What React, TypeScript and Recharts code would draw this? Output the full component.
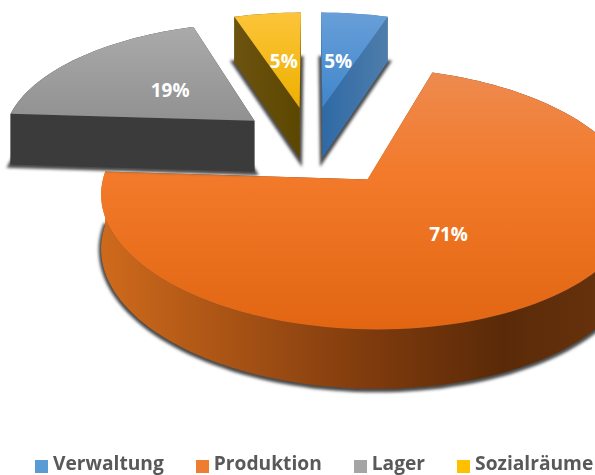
import React from 'react';
import { PieChart, Pie, Legend } from 'recharts';

const CATEGORIES = ['Verwaltung', 'Produktion', 'Lager', 'Sozialräume'];
const SHARES = [5, 71, 19, 5];

const COLORS = ['#5b9bd5', '#ed7d31', '#a5a5a5', '#ffc000'];
const TOP_STOPS = [
  ['#689fd8', '#3f86cc'],
  ['#ee8a4f', '#e26612'],
  ['#aaaaaa', '#919191'],
  ['#fcc53a', '#eeb000'],
];
const WALL_STOPS = [
  ['#2f6aa6', '#4e7dab'],
  ['#cf6a1c', '#7f3b0d', '#5a2a08', '#6b350f'],
  ['#3b3b3b', '#3b3b3b'],
  ['#6d5310', '#5c4700'],
];
// how far each slice is pulled out of the pie, in radii
const EXPLODE = [0.3, 0.38, 0.29, 0.3];
const LABEL_REACH = [0.46, 0.49, 0.46, 0.46];

const TILT = 117 / 253;
const PERSPECTIVE = 0.14;

const chartData = CATEGORIES.map((name, i) => ({ name, value: SHARES[i], fill: COLORS[i] }));

const rad = (d: number) => (d * Math.PI) / 180;

const project = (cx: number, cy: number, r: number, u: number, v: number) => {
  const w = 1 + PERSPECTIVE * v;
  const depth = 52 - 40 * (w - 1);
  const x = cx + (r * u) / w;
  const y = cy - (r * TILT * v) / w;
  return { x, y, by: y + depth };
};

const toPath = (pts: number[][]) =>
  pts.map((p, i) => `${i ? 'L' : 'M'}${p[0].toFixed(1)} ${p[1].toFixed(1)}`).join(' ') + ' Z';

const Slice3D = (props: any) => {
  const { cx, cy, outerRadius: r, startAngle, endAngle, index } = props;
  const a1 = 90 - startAngle;
  const a2 = 90 - endAngle;
  const mid = (a1 + a2) / 2;
  const e = EXPLODE[index];
  const ou = e * Math.sin(rad(mid));
  const ov = e * Math.cos(rad(mid));

  const rim = [];
  for (let a = a1; a < a2; a += 2) rim.push(project(cx, cy, r, ou + Math.sin(rad(a)), ov + Math.cos(rad(a))));
  rim.push(project(cx, cy, r, ou + Math.sin(rad(a2)), ov + Math.cos(rad(a2))));
  const apex = project(cx, cy, r, ou, ov);

  const first = rim[0];
  const last = rim[rim.length - 1];
  const top = toPath([[apex.x, apex.y], ...rim.map((p) => [p.x, p.y])]);
  const bottom = toPath([[apex.x, apex.by], ...rim.map((p) => [p.x, p.by])]);
  const wall = toPath([...rim.map((p) => [p.x, p.y]), ...[...rim].reverse().map((p) => [p.x, p.by])]);
  const startWall = toPath([[apex.x, apex.y], [first.x, first.y], [first.x, first.by], [apex.x, apex.by]]);
  const endWall = toPath([[apex.x, apex.y], [last.x, last.y], [last.x, last.by], [apex.x, apex.by]]);

  const walls = WALL_STOPS[index];
  const wallFill = `url(#wall-${index})`;
  return (
    <g>
      <defs>
        <linearGradient id={`top-${index}`} x1="0" y1="0" x2="0" y2="1">
          <stop offset="0" stopColor={TOP_STOPS[index][0]} />
          <stop offset={index === 1 ? 0.4 : 1} stopColor={index === 1 ? '#f27a2a' : TOP_STOPS[index][1]} />
          <stop offset="1" stopColor={TOP_STOPS[index][1]} />
        </linearGradient>
        <linearGradient id={`wall-${index}`} x1="0" y1="0" x2="1" y2="0">
          {walls.map((c, i) => (
            <stop key={i} offset={walls.length === 4 ? [0, 0.5, 0.75, 1][i] : i} stopColor={c} />
          ))}
        </linearGradient>
        <filter id={`shade-${index}`} x="-20%" y="-20%" width="140%" height="140%">
          <feGaussianBlur stdDeviation="1.5" />
        </filter>
      </defs>
      <path d={bottom} fill="#4a4a4a" stroke="#4a4a4a" strokeWidth={5} transform="translate(0 1)" filter={`url(#shade-${index})`} />
      <path d={wall} fill={wallFill} />
      <path d={startWall} fill={wallFill} />
      <path d={endWall} fill={wallFill} />
      <path d={top} fill={`url(#top-${index})`} />
    </g>
  );
};

const renderLabel = (props: any) => {
  const { cx, cy, outerRadius: r, midAngle, index, value } = props;
  const m = rad(90 - midAngle);
  const reach = EXPLODE[index] + LABEL_REACH[index];
  const p = project(cx, cy, r, reach * Math.sin(m), reach * Math.cos(m));
  return (
    <text x={p.x} y={p.y} dy="0.35em" textAnchor="middle" fill="#fff" fontSize={19} fontWeight={700} fontFamily="'Open Sans', sans-serif">
      {`${value}%`}
    </text>
  );
};

const legendText = (value: string) => (
  <span style={{ color: '#595959', fontWeight: 700, fontSize: 19.2, marginLeft: 1, marginRight: 22, fontFamily: "'Open Sans', sans-serif" }}>{value}</span>
);

export default function App() {
  return (
    <div style={{ position: 'absolute', left: 0, top: 0, width: 595, height: 475, background: '#fff', filter: 'blur(0.4px)' }}>
      <PieChart width={595} height={475} margin={{ top: 0, right: 0, bottom: 0, left: 0 }}>
        <Pie
          data={chartData}
          dataKey="value"
          nameKey="name"
          cx={311}
          cy={141}
          outerRadius={253}
          startAngle={90}
          endAngle={-270}
          paddingAngle={0}
          stroke="none"
          labelLine={false}
          label={renderLabel}
          shape={Slice3D}
          isAnimationActive={false}
        />
        <Legend
          verticalAlign="bottom"
          align="left"
          iconType="square"
          iconSize={13}
          itemSorter={null}
          formatter={legendText}
          wrapperStyle={{ left: 35, bottom: -1, width: 600, whiteSpace: 'nowrap' }}
        />
      </PieChart>
    </div>
  );
}
